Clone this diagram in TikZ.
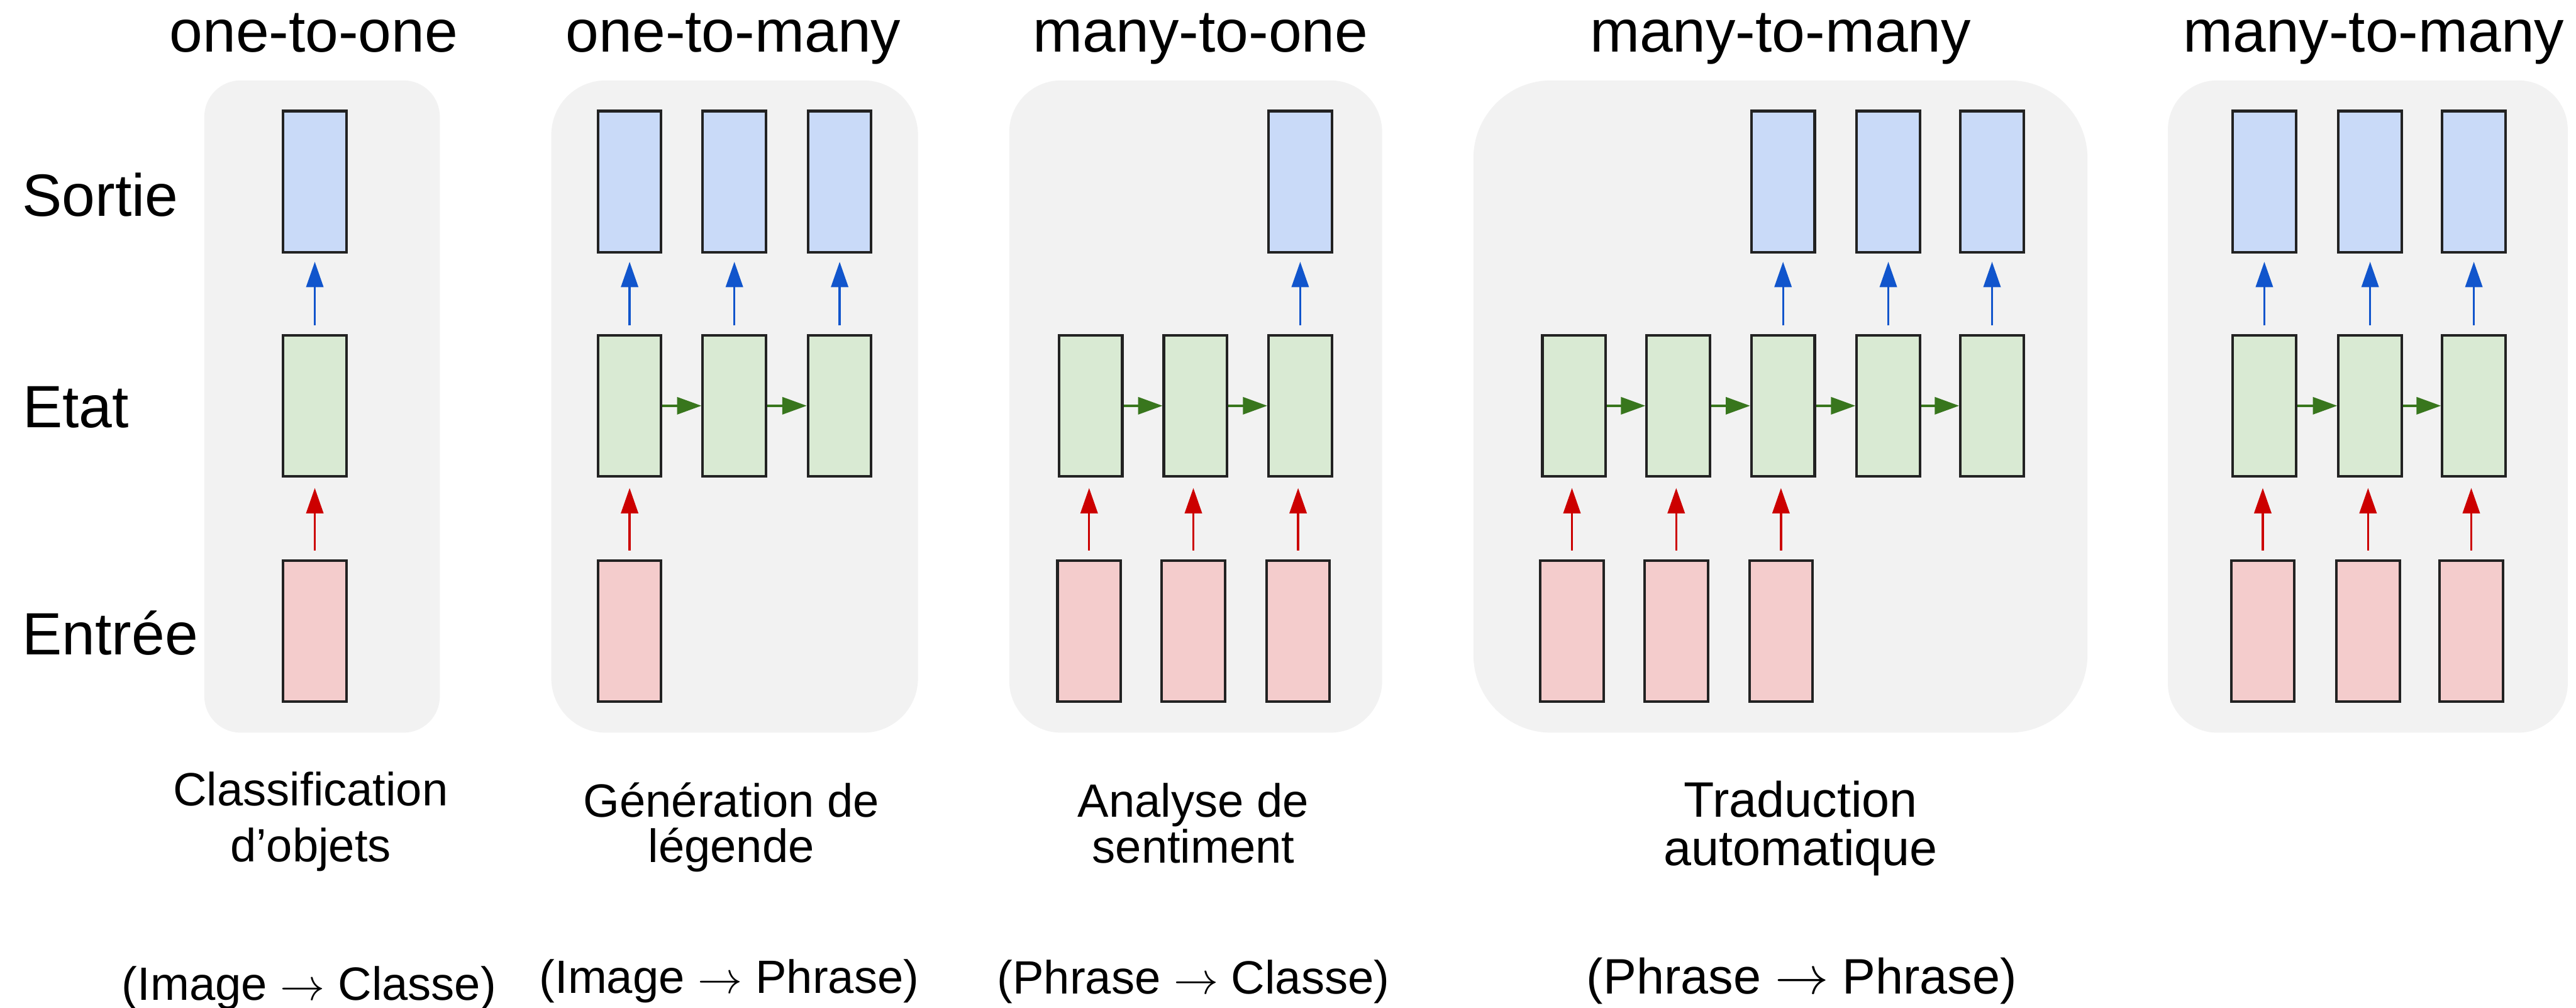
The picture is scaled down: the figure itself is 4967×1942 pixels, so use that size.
\documentclass[tikz,border=0pt]{standalone}
\usepackage{fontspec}
\setmainfont{Liberation Sans}
\usetikzlibrary{arrows.meta}
\definecolor{outfill}{HTML}{C9DAF8}
\definecolor{statefill}{HTML}{D9EAD3}
\definecolor{infill}{HTML}{F4CCCC}
\definecolor{panelfill}{HTML}{F2F2F2}
\definecolor{cellborder}{HTML}{222222}
\definecolor{bluearr}{HTML}{1155CC}
\definecolor{redarr}{HTML}{CC0000}
\definecolor{greenarr}{HTML}{38761D}
\begin{document}
\begin{tikzpicture}[x=0.2pt,y=-0.2pt,
  cell/.style={rectangle, draw=cellborder, line width=1pt, minimum width=24.4pt, minimum height=54.4pt, inner sep=0pt},
  outcell/.style={cell, fill=outfill},
  statecell/.style={cell, fill=statefill},
  incell/.style={cell, fill=infill},
  panel/.style={fill=panelfill},
  uparr/.style={line width=0.8pt, -{Triangle[length=9.8pt,width=6.6pt]}},
  outarr/.style={uparr, draw=bluearr, shorten <=3.2pt, shorten >=3.2pt},
  inarr/.style={uparr, draw=redarr, shorten <=3.4pt, shorten >=4pt},
  recarr/.style={line width=0.8pt, draw=greenarr, -{Triangle[length=9.4pt,width=6.6pt]}},
  title/.style={anchor=base, font=\fontsize{23pt}{27pt}\selectfont, inner sep=0pt},
  rowlabel/.style={anchor=base west, font=\fontsize{23pt}{27pt}\selectfont, inner sep=0pt},
  capt/.style={anchor=base, font=\fontsize{18pt}{21pt}\selectfont, inner sep=0pt},
  bigcapt/.style={anchor=base, font=\fontsize{19.2pt}{23pt}\selectfont, inner sep=0pt}]
\fill[white] (0,0) rectangle (4967,1942);
\useasboundingbox (0,0) rectangle (4967,1942);

% panels
\fill[panel, rounded corners=14pt] (394,155) rectangle (848,1412);
\fill[panel, rounded corners=21pt] (1063,155) rectangle (1770,1412);
\fill[panel, rounded corners=20pt] (1946,155) rectangle (2665,1412);
\fill[panel, rounded corners=30pt] (2841,155) rectangle (4025,1412);
\fill[panel, rounded corners=19pt] (4180,155) rectangle (4951,1412);

% titles
\node[title] (t1) at (605,100) {one-to-one};
\node[title] (t2) at (1414,100) {one-to-many};
\node[title] (t3) at (2315,100) {many-to-one};
\node[title] (t4) at (3433,100) {many-to-many};
\node[title] (t5) at (4577,100) {many-to-many};

% row labels
\node[rowlabel] (lo) at (42,416) {Sortie};
\node[rowlabel] (ls) at (43,824) {Etat};
\node[rowlabel] (li) at (42,1262) {Entrée};

% panel 1: one-to-one
\node[outcell] (a-o1) at (607,350) {};
\node[statecell] (a-s1) at (607,782) {};
\node[incell] (a-i1) at (607,1216) {};
\draw[outarr] (a-s1) -- (a-o1);
\draw[inarr] (a-i1) -- (a-s1);

% panel 2: one-to-many
\node[outcell] (b-o1) at (1214,350) {};
\node[outcell] (b-o2) at (1416,350) {};
\node[outcell] (b-o3) at (1619,350) {};
\node[statecell] (b-s1) at (1214,782) {};
\node[statecell] (b-s2) at (1416,782) {};
\node[statecell] (b-s3) at (1619,782) {};
\node[incell] (b-i1) at (1214,1216) {};
\draw[outarr] (b-s1) -- (b-o1);
\draw[outarr] (b-s2) -- (b-o2);
\draw[outarr] (b-s3) -- (b-o3);
\draw[recarr] (b-s1) -- (b-s2);
\draw[recarr] (b-s2) -- (b-s3);
\draw[inarr] (b-i1) -- (b-s1);

% panel 3: many-to-one
\node[outcell] (c-o3) at (2507,350) {};
\node[statecell] (c-s1) at (2103,782) {};
\node[statecell] (c-s2) at (2305,782) {};
\node[statecell] (c-s3) at (2507,782) {};
\node[incell] (c-i1) at (2100,1216) {};
\node[incell] (c-i2) at (2301,1216) {};
\node[incell] (c-i3) at (2503,1216) {};
\draw[outarr] (c-s3) -- (c-o3);
\draw[recarr] (c-s1) -- (c-s2);
\draw[recarr] (c-s2) -- (c-s3);
\draw[inarr] (c-i1) -- (c-i1 |- c-s1.south);
\draw[inarr] (c-i2) -- (c-i2 |- c-s2.south);
\draw[inarr] (c-i3) -- (c-i3 |- c-s3.south);

% panel 4: many-to-many (delayed)
\node[outcell] (d-o3) at (3438,350) {};
\node[outcell] (d-o4) at (3641,350) {};
\node[outcell] (d-o5) at (3841,350) {};
\node[statecell] (d-s1) at (3035,782) {};
\node[statecell] (d-s2) at (3236,782) {};
\node[statecell] (d-s3) at (3438,782) {};
\node[statecell] (d-s4) at (3641,782) {};
\node[statecell] (d-s5) at (3841,782) {};
\node[incell] (d-i1) at (3031,1216) {};
\node[incell] (d-i2) at (3232,1216) {};
\node[incell] (d-i3) at (3434,1216) {};
\draw[outarr] (d-s3) -- (d-o3);
\draw[outarr] (d-s4) -- (d-o4);
\draw[outarr] (d-s5) -- (d-o5);
\draw[recarr] (d-s1) -- (d-s2);
\draw[recarr] (d-s2) -- (d-s3);
\draw[recarr] (d-s3) -- (d-s4);
\draw[recarr] (d-s4) -- (d-s5);
\draw[inarr] (d-i1) -- (d-i1 |- d-s1.south);
\draw[inarr] (d-i2) -- (d-i2 |- d-s2.south);
\draw[inarr] (d-i3) -- (d-i3 |- d-s3.south);

% panel 5: many-to-many (synced)
\node[outcell] (e-o1) at (4366,350) {};
\node[outcell] (e-o2) at (4570,350) {};
\node[outcell] (e-o3) at (4770,350) {};
\node[statecell] (e-s1) at (4366,782) {};
\node[statecell] (e-s2) at (4570,782) {};
\node[statecell] (e-s3) at (4770,782) {};
\node[incell] (e-i1) at (4363,1216) {};
\node[incell] (e-i2) at (4566,1216) {};
\node[incell] (e-i3) at (4765,1216) {};
\draw[outarr] (e-s1) -- (e-o1);
\draw[outarr] (e-s2) -- (e-o2);
\draw[outarr] (e-s3) -- (e-o3);
\draw[recarr] (e-s1) -- (e-s2);
\draw[recarr] (e-s2) -- (e-s3);
\draw[inarr] (e-i1) -- (e-i1 |- e-s1.south);
\draw[inarr] (e-i2) -- (e-i2 |- e-s2.south);
\draw[inarr] (e-i3) -- (e-i3 |- e-s3.south);

% captions
\node[capt] (c1a) at (599,1553) {Classification};
\node[capt] (c1b) at (599,1661) {d’objets};
\node[capt] (c2a) at (1410,1575) {Génération de};
\node[capt] (c2b) at (1410,1662) {légende};
\node[capt] (c3a) at (2301,1575) {Analyse de};
\node[capt] (c3b) at (2301,1663) {sentiment};
\node[bigcapt] (c4a) at (3472,1575) {Traduction};
\node[bigcapt] (c4b) at (3472,1668) {automatique};

% mappings
\node[capt] (m1) at (596,1928) {(Image $\rightarrow$ Classe)};
\node[capt] (m2) at (1406,1914) {(Image $\rightarrow$ Phrase)};
\node[capt] (m3) at (2301,1915) {(Phrase $\rightarrow$ Classe)};
\node[bigcapt] (m4) at (3474,1915) {(Phrase $\rightarrow$ Phrase)};
\end{tikzpicture}
\end{document}
